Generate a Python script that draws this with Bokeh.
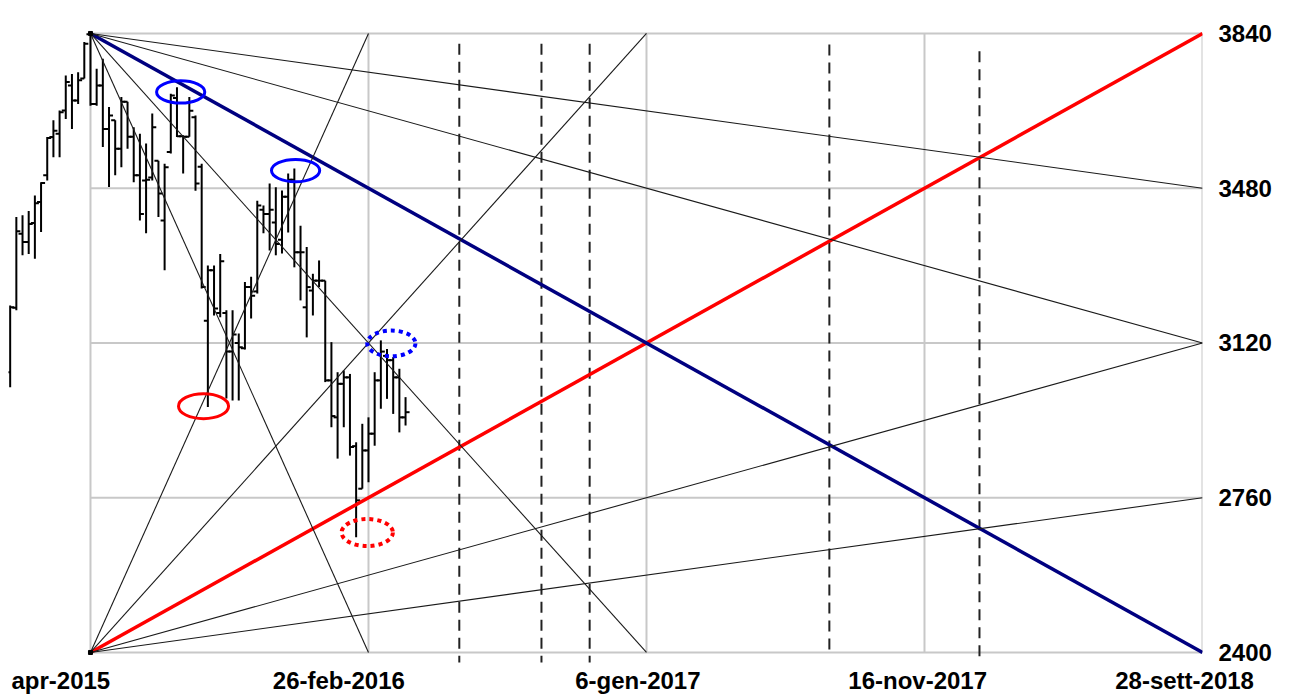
from bokeh.plotting import figure
from bokeh.models import FixedTicker, Range1d
from bokeh.embed import file_html
from bokeh.resources import INLINE

# ---------------- data ----------------
# weekly bars; week 0 = the apr-2015 top (fan origin)
weeks = list(range(-13, 52))
opens = [3052, 3202, 3374, 3355, 3399, 3448, 3510, 3599, 3607, 3661, 3719, 3684, 3735,
         3838, 3676, 3719, 3618, 3638, 3572, 3681, 3600, 3510, 3498, 3505, 3544, 3405,
         3564, 3690, 3601, 3600, 3645, 3530, 3172, 3289, 3190, 3190, 3100, 3120, 3108,
         3250, 3240, 3430, 3420, 3400, 3360, 3460, 3500, 3331, 3203, 3242, 3265, 3265,
         3033, 2947, 3025, 3040, 2880, 2781, 2870, 2909, 3033, 3090, 3080, 3040, 2947]
highs = [3207, 3413, 3417, 3427, 3463, 3494, 3599, 3638, 3661, 3742, 3746, 3750, 3820,
         3843, 3758, 3781, 3669, 3638, 3692, 3681, 3622, 3607, 3584, 3654, 3544, 3537,
         3700, 3715, 3603, 3692, 3649, 3537, 3300, 3300, 3327, 3196, 3196, 3142, 3262,
         3274, 3451, 3440, 3491, 3482, 3475, 3514, 3526, 3393, 3343, 3281, 3312, 3265,
         3122, 3052, 3056, 3048, 2889, 2932, 2947, 3052, 3126, 3106, 3087, 3060, 2994]
lows = [3017, 3196, 3324, 3327, 3316, 3378, 3498, 3552, 3552, 3641, 3618, 3676, 3735,
        3672, 3672, 3576, 3483, 3510, 3529, 3572, 3494, 3405, 3375, 3498, 3413, 3289,
        3561, 3599, 3514, 3600, 3474, 3247, 2971, 3184, 3180, 2991, 2986, 2986, 3105,
        3177, 3235, 3375, 3335, 3324, 3328, 3377, 3296, 3219, 3133, 3184, 3250, 3029,
        2924, 2851, 2924, 2858, 2668, 2781, 2796, 2881, 2967, 2990, 2955, 2912, 2928]
closes = [3203, 3380, 3355, 3397, 3445, 3492, 3597, 3614, 3657, 3727, 3684, 3731, 3816,
          3676, 3719, 3618, 3649, 3572, 3681, 3600, 3510, 3420, 3500, 3622, 3468, 3529,
          3696, 3601, 3600, 3660, 3491, 3250, 3289, 3200, 3310, 3100, 3140, 3110, 3250,
          3230, 3440, 3420, 3430, 3350, 3460, 3500, 3331, 3331, 3250, 3265, 3265, 3033,
          2950, 3025, 3040, 2878, 2754, 2870, 2909, 3033, 3100, 3080, 3040, 2947, 2959]

# Gann fan: origins, price per week for the 1x1, fan ratios
fan_start_week = 0
fan_low = 2400
fan_high = 3840
fan_end_week = 180
points_per_week = 8
fan_ratios = [4, 2, 1, 0.5, 0.25]

# axes
grid_weeks = [0, 45, 90, 135, 180]
xtick_pos = [-4.8, 40.2, 88.6, 133.9, 177.1]
xtick_labels = ["apr-2015", "26-feb-2016", "6-gen-2017", "16-nov-2017", "28-sett-2018"]
ytick_values = [2400, 2760, 3120, 3480, 3840]

# time-cycle dashed verticals
cycle_weeks = [59.7, 73.0, 80.8, 119.6, 143.9]
cycle_top = [3828, 3828, 3828, 3817, 3807]
cycle_bottom = [2367, 2367, 2367, 2407, 2391]

# highlighted ovals
solid_blue_x = [14.6, 33.2]
solid_blue_y = [3704, 3521]
dotted_blue_x = [48.7]
dotted_blue_y = [3119]
solid_red_x = [18.3]
solid_red_y = [2973]
dotted_red_x = [44.8]
dotted_red_y = [2679]

# ---------------- figure ----------------
p = figure(width=1283, height=698,
           x_range=Range1d(-13.27, 180), y_range=Range1d(2376.7, 3870.2),
           output_backend="svg", toolbar_location=None,
           y_axis_location="right",
           min_border_left=8, min_border_top=20, min_border_right=81, min_border_bottom=36)
p.outline_line_color = None
p.xgrid.visible = False
p.ygrid.visible = False
p.background_fill_color = "white"

# grid box
grid_col = "#c8c8c8"
p.segment(x0=grid_weeks, y0=[fan_low] * len(grid_weeks), x1=grid_weeks,
          y1=[fan_high] * len(grid_weeks), line_color=grid_col, line_width=2)
p.segment(x0=[fan_start_week] * len(ytick_values), y0=ytick_values,
          x1=[fan_end_week] * len(ytick_values), y1=ytick_values,
          line_color=grid_col, line_width=2)

# dashed cycle lines
p.segment(x0=cycle_weeks, y0=cycle_bottom, x1=cycle_weeks, y1=cycle_top,
          line_color="#222222", line_width=2, line_dash="11 7")

# OHLC bars
tick = 0.65
p.segment(x0=weeks, y0=lows, x1=weeks, y1=highs, line_color="black", line_width=2)
p.segment(x0=[w - tick for w in weeks], y0=opens, x1=weeks, y1=opens,
          line_color="black", line_width=2)
p.segment(x0=weeks, y0=closes, x1=[w + tick for w in weeks], y1=closes,
          line_color="black", line_width=2)

# fan lines
span = fan_high - fan_low
def fan_end(r):
    slope = r * points_per_week
    t = span / slope
    if fan_start_week + t <= fan_end_week:
        return fan_start_week + t, span
    return fan_end_week, slope * (fan_end_week - fan_start_week)

thin_x0, thin_y0, thin_x1, thin_y1 = [], [], [], []
for r in fan_ratios:
    ex, dy = fan_end(r)
    if r == 1:
        p.line([fan_start_week, ex], [fan_low, fan_low + dy], line_color="#ff0000", line_width=3.5)
        p.line([fan_start_week, ex], [fan_high, fan_high - dy], line_color="#000080", line_width=3.5)
        continue
    thin_x0 += [fan_start_week, fan_start_week]
    thin_y0 += [fan_low, fan_high]
    thin_x1 += [ex, ex]
    thin_y1 += [fan_low + dy, fan_high - dy]
p.segment(x0=thin_x0, y0=thin_y0, x1=thin_x1, y1=thin_y1, line_color="#1a1a1a", line_width=1.1)

# origin markers
p.scatter([fan_start_week, fan_start_week], [fan_low, fan_high], marker="square",
          size=4, color="black")

# ovals
ow, oh = 7.8, 52
p.ellipse(solid_blue_x, solid_blue_y, width=ow, height=oh, fill_color=None,
          line_color="#0000ff", line_width=3)
p.ellipse(dotted_blue_x, dotted_blue_y, width=ow, height=60, fill_color=None,
          line_color="#0000ff", line_width=4, line_dash="4 4")
p.ellipse(solid_red_x, solid_red_y, width=8.1, height=58, fill_color=None,
          line_color="#ff0000", line_width=3)
p.ellipse(dotted_red_x, dotted_red_y, width=8.3, height=63, fill_color=None,
          line_color="#ff0000", line_width=4, line_dash="4 4")

# axes
for ax in (p.xaxis, p.yaxis):
    ax.axis_line_color = None
    ax.major_tick_line_color = None
    ax.minor_tick_line_color = None
    ax.major_tick_out = 0
    ax.major_tick_in = 0
    ax.major_label_text_font = "Liberation Sans"
    ax.major_label_text_font_size = "24px"
    ax.major_label_text_font_style = "bold"
    ax.major_label_text_color = "black"

p.xaxis.ticker = FixedTicker(ticks=xtick_pos)
p.xaxis.major_label_overrides = {pos: lab for pos, lab in zip(xtick_pos, xtick_labels)}
p.xaxis.major_label_standoff = 4
p.yaxis.ticker = FixedTicker(ticks=ytick_values)
p.yaxis.major_label_standoff = 16

open("out.html", "w").write(file_html(p, INLINE))
